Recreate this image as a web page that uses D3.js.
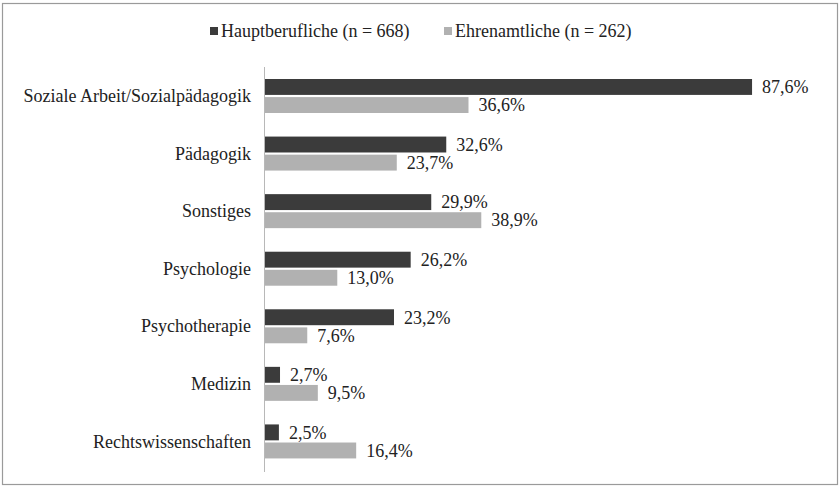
<!DOCTYPE html>
<html>
<head>
<meta charset="utf-8">
<script src="https://cdn.jsdelivr.net/npm/d3@7/dist/d3.min.js"></script>
<style>
  body { margin: 0; background: #fff; }
</style>
</head>
<body>
<div id="chart"></div>
<script>
'use strict';

// categories, top to bottom
var categories = [
  'Soziale Arbeit/Sozialpädagogik', 'Pädagogik', 'Sonstiges', 'Psychologie',
  'Psychotherapie', 'Medizin', 'Rechtswissenschaften'
];
var seriesNames = ['Hauptberufliche (n = 668)', 'Ehrenamtliche (n = 262)'];
var hauptberuflich = [87.6, 32.6, 29.9, 26.2, 23.2, 2.7, 2.5];
var ehrenamtlich = [36.6, 23.7, 38.9, 13.0, 7.6, 9.5, 16.4];

var width = 840, height = 488;
var colors = ['#3b3b3b', '#b1b1b1'];
var font = '"Liberation Serif"';
var fontSize = '18px';

var svg = d3.select('#chart')
    .append('svg')
    .attr('width', width)
    .attr('height', height);

// frame
svg.append('rect')
    .attr('x', 2.5).attr('y', 3.5)
    .attr('width', width - 5).attr('height', height - 7)
    .attr('fill', '#fff')
    .attr('stroke', '#9a9a9a')
    .attr('stroke-width', 1.2);

var x = d3.scaleLinear().domain([0, 100]).range([265, 821]);
var y = d3.scaleBand().domain(categories).range([67, 470]).paddingInner(0);
var ySub = d3.scaleBand().domain([0, 1]).range([12, 46]).paddingInner(0.12);

var rows = categories.map(function (c, i) {
  return { cat: c, values: [hauptberuflich[i], ehrenamtlich[i]] };
});

var groups = svg.selectAll('g.row')
    .data(rows)
    .enter()
    .append('g')
    .attr('class', 'row')
    .attr('transform', function (d) { return 'translate(0,' + y(d.cat) + ')'; });

groups.selectAll('rect')
    .data(function (d) { return d.values; })
    .enter()
    .append('rect')
    .attr('x', x(0))
    .attr('y', function (d, i) { return ySub(i); })
    .attr('width', function (d) { return x(d) - x(0); })
    .attr('height', ySub.bandwidth())
    .attr('fill', function (d, i) { return colors[i]; });

groups.selectAll('text.val')
    .data(function (d) { return d.values; })
    .enter()
    .append('text')
    .attr('class', 'val')
    .attr('x', function (d) { return x(d) + 10; })
    .attr('y', function (d, i) { return ySub(i) + ySub.bandwidth() / 2; })
    .attr('dy', '0.35em')
    .attr('fill', '#222')
    .style('font-family', font)
    .style('font-size', fontSize)
    .text(function (d) { return d.toFixed(1).replace('.', ',') + '%'; });

// category labels
svg.selectAll('text.cat')
    .data(categories)
    .enter()
    .append('text')
    .attr('class', 'cat')
    .attr('x', 251)
    .attr('y', function (d) { return y(d) + y.bandwidth() / 2; })
    .attr('dy', '0.35em')
    .attr('text-anchor', 'end')
    .attr('fill', '#222')
    .style('font-family', font)
    .style('font-size', fontSize)
    .text(function (d) { return d; });

// vertical axis line
svg.append('line')
    .attr('x1', x(0) - 0.5).attr('x2', x(0) - 0.5)
    .attr('y1', 67).attr('y2', 472)
    .attr('stroke', '#b8b8b8')
    .attr('stroke-width', 1);

// legend
var legendX = [210, 444];
var legend = svg.selectAll('g.legend')
    .data(seriesNames)
    .enter()
    .append('g')
    .attr('class', 'legend')
    .attr('transform', function (d, i) { return 'translate(' + legendX[i] + ',31)'; });

legend.append('rect')
    .attr('x', 0).attr('y', -4)
    .attr('width', 8).attr('height', 8)
    .attr('fill', function (d, i) { return colors[i]; });

legend.append('text')
    .attr('x', 11)
    .attr('dy', '0.35em')
    .attr('fill', '#222')
    .style('font-family', font)
    .style('font-size', fontSize)
    .text(function (d) { return d; });
</script>
</body>
</html>
